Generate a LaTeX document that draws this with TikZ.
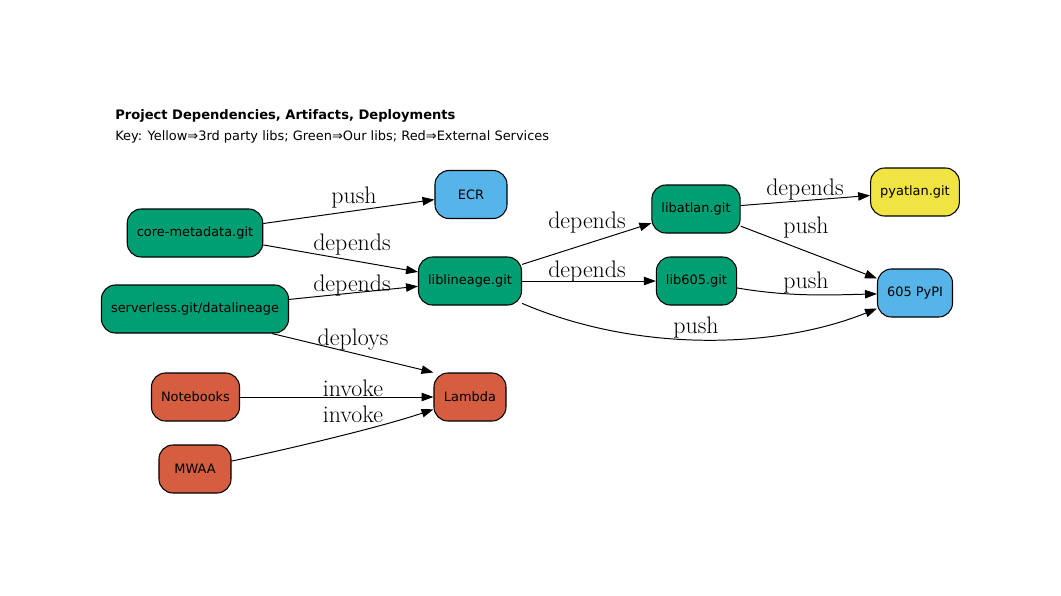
\documentclass[tikz,border=0pt]{standalone}
\usepackage{fontspec}
\usetikzlibrary{arrows.meta}
\newfontfamily\dejavu{DejaVu Sans}
\definecolor{ourgreen}{RGB}{0,158,115}
\definecolor{svcblue}{RGB}{86,180,233}
\definecolor{thirdyellow}{RGB}{240,228,66}
\definecolor{extred}{RGB}{213,94,64}

\begin{document}
\begin{tikzpicture}[x=0.025cm, y=-0.025cm,
	proj/.style = {draw, line width=0.75pt, rounded corners=0.35cm, minimum width=1.8cm, minimum height=1.2cm,
		inner xsep=6.8pt, font=\dejavu\fontsize{9.2}{11}\selectfont},
	lib/.style = {proj, fill=ourgreen},
	svc/.style = {proj, fill=svcblue},
	third/.style = {proj, fill=thirdyellow},
	ext/.style = {proj, fill=extred},
	edge/.style = {-{Triangle[length=8.5pt, width=6pt]}, line width=0.7pt},
	lbl/.style = {font=\fontsize{17}{19}\selectfont, inner sep=1pt, yshift=-1.4pt}]
	\useasboundingbox (0,0) rectangle (1061,595);

	\node [anchor=base west, inner sep=0pt, font=\dejavu\bfseries\fontsize{9.3}{11}\selectfont] (title) at (115,119) {Project Dependencies, Artifacts, Deployments};
	\node [anchor=base west, inner sep=0pt, font=\dejavu\fontsize{9.2}{11}\selectfont] (key) at (115,140) {Key: Yellow⇒3rd party libs; Green⇒Our libs; Red⇒External Services};

	\node [svc] (ecr) at (471,194.5) {ECR};
	\node [lib] (core) at (195,233) {core-metadata.git};
	\node [lib] (serverless) at (195,309) {serverless.git/datalineage};
	\node [ext] (notebooks) at (195.5,397) {Notebooks};
	\node [ext] (mwaa) at (195,469) {MWAA};
	\node [lib] (liblineage) at (470,281) {liblineage.git};
	\node [ext] (lambda) at (470,397) {Lambda};
	\node [lib] (libatlan) at (696,209) {libatlan.git};
	\node [lib] (lib605) at (696.5,281) {lib605.git};
	\node [third] (pyatlan) at (915,192) {pyatlan.git};
	\node [svc] (pypi) at (915,293) {605 PyPI};

	\draw [edge] (core) -- (ecr);
	\node [lbl] (l1) at (354,196) {push};
	\draw [edge] (core) -- (liblineage);
	\node [lbl] (l2) at (352,243) {depends};
	\draw [edge] (serverless) -- (liblineage);
	\node [lbl] (l3) at (352,284) {depends};
	\draw [edge] (serverless.south east) ++(-17,0) coordinate (sd) (sd) -- (lambda.north west);
	\node [lbl] (l4) at (353,338) {deploys};
	\draw [edge] (notebooks) -- (lambda);
	\node [lbl] (l5) at (353,386) {invoke};
	\draw [edge] (mwaa) .. controls (320,442) and (390,424) .. (lambda);
	\node [lbl] (l6) at (353,412) {invoke};

	\draw [edge] (liblineage) -- (libatlan);
	\node [lbl] (l7) at (587,221) {depends};
	\draw [edge] (liblineage) -- (lib605);
	\node [lbl] (l8) at (587,270) {depends};
	\draw [edge] (liblineage) .. controls (640,354) and (780,348) .. (pypi);
	\node [lbl] (l9) at (696,326) {push};
	\draw [edge] (libatlan) -- (pyatlan);
	\node [lbl] (l10) at (805,188) {depends};
	\draw [edge] (libatlan) -- (pypi);
	\node [lbl] (l11) at (806,226) {push};
	\draw [edge] (lib605) .. controls (790,297) and (830,295) .. (pypi);
	\node [lbl] (l12) at (806,281) {push};
\end{tikzpicture}
\end{document}
